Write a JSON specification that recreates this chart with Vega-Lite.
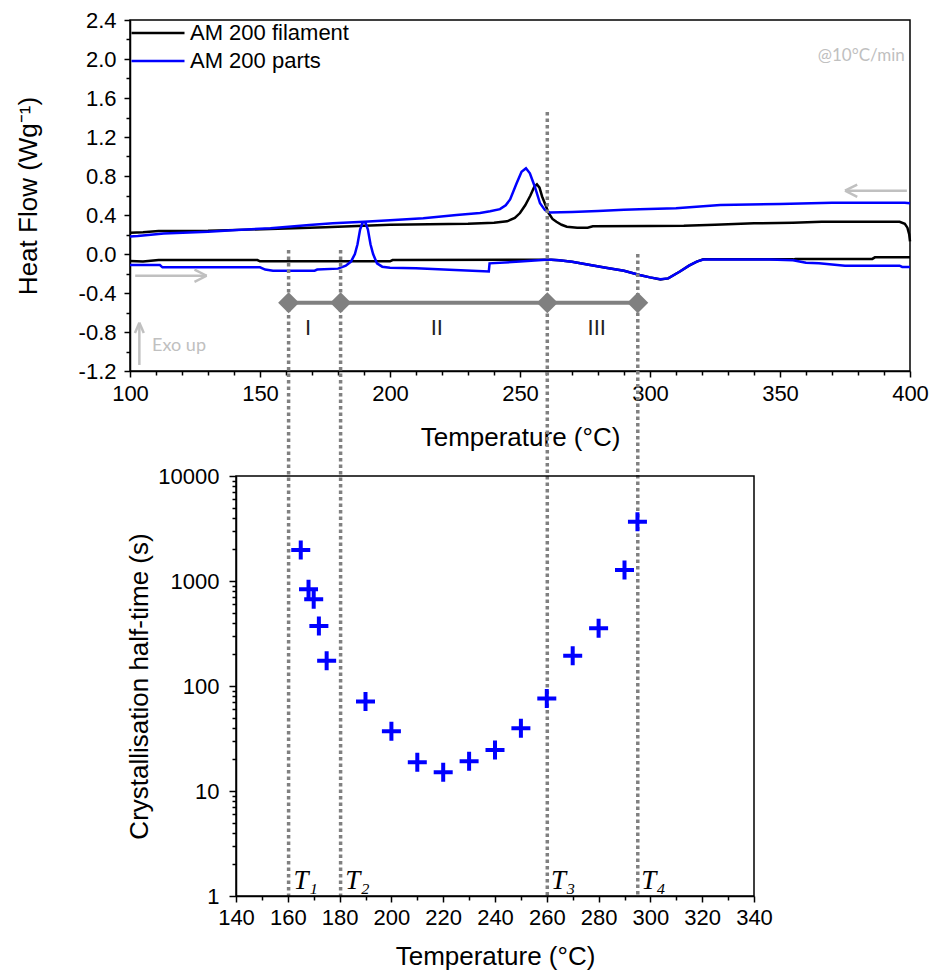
{
  "$schema": "https://vega.github.io/schema/vega-lite/v6.json",
  "background": "white",
  "padding": {"left": 14, "top": 8, "right": 5, "bottom": 0},
  "bounds": "flush",
  "spacing": 105,
  "config": {
    "font": "Liberation Sans",
    "view": {"stroke": "black", "strokeWidth": 1.5},
    "axis": {
      "grid": false,
      "labelFont": "Liberation Sans",
      "titleFont": "Liberation Sans",
      "labelColor": "black",
      "titleColor": "black",
      "domainColor": "black",
      "tickColor": "black",
      "domainWidth": 1.5,
      "tickWidth": 1.5,
      "titleFontWeight": "normal",
      "labelFontSize": 22,
      "titleFontSize": 26,
      "labelFlush": false,
      "labelOverlap": false
    }
  },
  "datasets": {
    "dsc": [
      {"T": 100, "v": 0.219, "m": "AM 200 filament", "run": "cooling"},
      {"T": 105, "v": 0.222, "m": "AM 200 filament", "run": "cooling"},
      {"T": 111, "v": 0.236, "m": "AM 200 filament", "run": "cooling"},
      {"T": 130, "v": 0.238, "m": "AM 200 filament", "run": "cooling"},
      {"T": 145, "v": 0.25, "m": "AM 200 filament", "run": "cooling"},
      {"T": 160, "v": 0.262, "m": "AM 200 filament", "run": "cooling"},
      {"T": 175, "v": 0.275, "m": "AM 200 filament", "run": "cooling"},
      {"T": 190, "v": 0.29, "m": "AM 200 filament", "run": "cooling"},
      {"T": 200, "v": 0.3, "m": "AM 200 filament", "run": "cooling"},
      {"T": 215, "v": 0.305, "m": "AM 200 filament", "run": "cooling"},
      {"T": 230, "v": 0.31, "m": "AM 200 filament", "run": "cooling"},
      {"T": 240, "v": 0.32, "m": "AM 200 filament", "run": "cooling"},
      {"T": 245, "v": 0.335, "m": "AM 200 filament", "run": "cooling"},
      {"T": 248, "v": 0.37, "m": "AM 200 filament", "run": "cooling"},
      {"T": 250, "v": 0.42, "m": "AM 200 filament", "run": "cooling"},
      {"T": 252, "v": 0.5, "m": "AM 200 filament", "run": "cooling"},
      {"T": 254, "v": 0.6, "m": "AM 200 filament", "run": "cooling"},
      {"T": 255.5, "v": 0.69, "m": "AM 200 filament", "run": "cooling"},
      {"T": 256.5, "v": 0.715, "m": "AM 200 filament", "run": "cooling"},
      {"T": 257.5, "v": 0.68, "m": "AM 200 filament", "run": "cooling"},
      {"T": 258.5, "v": 0.59, "m": "AM 200 filament", "run": "cooling"},
      {"T": 260, "v": 0.49, "m": "AM 200 filament", "run": "cooling"},
      {"T": 261, "v": 0.42, "m": "AM 200 filament", "run": "cooling"},
      {"T": 262.5, "v": 0.36, "m": "AM 200 filament", "run": "cooling"},
      {"T": 264, "v": 0.33, "m": "AM 200 filament", "run": "cooling"},
      {"T": 266, "v": 0.3, "m": "AM 200 filament", "run": "cooling"},
      {"T": 268, "v": 0.28, "m": "AM 200 filament", "run": "cooling"},
      {"T": 272, "v": 0.27, "m": "AM 200 filament", "run": "cooling"},
      {"T": 276, "v": 0.27, "m": "AM 200 filament", "run": "cooling"},
      {"T": 278, "v": 0.285, "m": "AM 200 filament", "run": "cooling"},
      {"T": 300, "v": 0.287, "m": "AM 200 filament", "run": "cooling"},
      {"T": 313, "v": 0.29, "m": "AM 200 filament", "run": "cooling"},
      {"T": 325, "v": 0.3, "m": "AM 200 filament", "run": "cooling"},
      {"T": 340, "v": 0.315, "m": "AM 200 filament", "run": "cooling"},
      {"T": 355, "v": 0.32, "m": "AM 200 filament", "run": "cooling"},
      {"T": 366, "v": 0.33, "m": "AM 200 filament", "run": "cooling"},
      {"T": 396, "v": 0.33, "m": "AM 200 filament", "run": "cooling"},
      {"T": 398, "v": 0.31, "m": "AM 200 filament", "run": "cooling"},
      {"T": 399, "v": 0.27, "m": "AM 200 filament", "run": "cooling"},
      {"T": 399.7, "v": 0.2, "m": "AM 200 filament", "run": "cooling"},
      {"T": 400, "v": 0.13, "m": "AM 200 filament", "run": "cooling"},
      {"T": 100, "v": -0.072, "m": "AM 200 filament", "run": "heating"},
      {"T": 105, "v": -0.078, "m": "AM 200 filament", "run": "heating"},
      {"T": 111, "v": -0.062, "m": "AM 200 filament", "run": "heating"},
      {"T": 149, "v": -0.062, "m": "AM 200 filament", "run": "heating"},
      {"T": 150, "v": -0.075, "m": "AM 200 filament", "run": "heating"},
      {"T": 200, "v": -0.075, "m": "AM 200 filament", "run": "heating"},
      {"T": 201, "v": -0.062, "m": "AM 200 filament", "run": "heating"},
      {"T": 262, "v": -0.058, "m": "AM 200 filament", "run": "heating"},
      {"T": 265, "v": -0.065, "m": "AM 200 filament", "run": "heating"},
      {"T": 270, "v": -0.08, "m": "AM 200 filament", "run": "heating"},
      {"T": 277, "v": -0.113, "m": "AM 200 filament", "run": "heating"},
      {"T": 283, "v": -0.14, "m": "AM 200 filament", "run": "heating"},
      {"T": 290, "v": -0.171, "m": "AM 200 filament", "run": "heating"},
      {"T": 296, "v": -0.215, "m": "AM 200 filament", "run": "heating"},
      {"T": 300, "v": -0.24, "m": "AM 200 filament", "run": "heating"},
      {"T": 304, "v": -0.262, "m": "AM 200 filament", "run": "heating"},
      {"T": 307, "v": -0.25, "m": "AM 200 filament", "run": "heating"},
      {"T": 311.5, "v": -0.18, "m": "AM 200 filament", "run": "heating"},
      {"T": 315, "v": -0.12, "m": "AM 200 filament", "run": "heating"},
      {"T": 318, "v": -0.078, "m": "AM 200 filament", "run": "heating"},
      {"T": 320.5, "v": -0.055, "m": "AM 200 filament", "run": "heating"},
      {"T": 355, "v": -0.055, "m": "AM 200 filament", "run": "heating"},
      {"T": 356, "v": -0.05, "m": "AM 200 filament", "run": "heating"},
      {"T": 385.5, "v": -0.05, "m": "AM 200 filament", "run": "heating"},
      {"T": 386.5, "v": -0.034, "m": "AM 200 filament", "run": "heating"},
      {"T": 400, "v": -0.034, "m": "AM 200 filament", "run": "heating"},
      {"T": 100, "v": 0.18, "m": "AM 200 parts", "run": "cooling"},
      {"T": 103, "v": 0.185, "m": "AM 200 parts", "run": "cooling"},
      {"T": 113, "v": 0.21, "m": "AM 200 parts", "run": "cooling"},
      {"T": 130, "v": 0.229, "m": "AM 200 parts", "run": "cooling"},
      {"T": 141, "v": 0.246, "m": "AM 200 parts", "run": "cooling"},
      {"T": 154, "v": 0.264, "m": "AM 200 parts", "run": "cooling"},
      {"T": 169, "v": 0.297, "m": "AM 200 parts", "run": "cooling"},
      {"T": 178, "v": 0.315, "m": "AM 200 parts", "run": "cooling"},
      {"T": 190, "v": 0.33, "m": "AM 200 parts", "run": "cooling"},
      {"T": 200, "v": 0.345, "m": "AM 200 parts", "run": "cooling"},
      {"T": 212.8, "v": 0.366, "m": "AM 200 parts", "run": "cooling"},
      {"T": 225.6, "v": 0.4, "m": "AM 200 parts", "run": "cooling"},
      {"T": 234.6, "v": 0.42, "m": "AM 200 parts", "run": "cooling"},
      {"T": 238.5, "v": 0.438, "m": "AM 200 parts", "run": "cooling"},
      {"T": 242.3, "v": 0.46, "m": "AM 200 parts", "run": "cooling"},
      {"T": 244.5, "v": 0.5, "m": "AM 200 parts", "run": "cooling"},
      {"T": 246.2, "v": 0.56, "m": "AM 200 parts", "run": "cooling"},
      {"T": 248.7, "v": 0.725, "m": "AM 200 parts", "run": "cooling"},
      {"T": 250.6, "v": 0.844, "m": "AM 200 parts", "run": "cooling"},
      {"T": 252.3, "v": 0.879, "m": "AM 200 parts", "run": "cooling"},
      {"T": 253.8, "v": 0.828, "m": "AM 200 parts", "run": "cooling"},
      {"T": 255.7, "v": 0.69, "m": "AM 200 parts", "run": "cooling"},
      {"T": 257.7, "v": 0.52, "m": "AM 200 parts", "run": "cooling"},
      {"T": 259.6, "v": 0.45, "m": "AM 200 parts", "run": "cooling"},
      {"T": 261.5, "v": 0.425, "m": "AM 200 parts", "run": "cooling"},
      {"T": 270, "v": 0.43, "m": "AM 200 parts", "run": "cooling"},
      {"T": 280, "v": 0.44, "m": "AM 200 parts", "run": "cooling"},
      {"T": 290, "v": 0.455, "m": "AM 200 parts", "run": "cooling"},
      {"T": 296, "v": 0.458, "m": "AM 200 parts", "run": "cooling"},
      {"T": 310, "v": 0.47, "m": "AM 200 parts", "run": "cooling"},
      {"T": 327, "v": 0.503, "m": "AM 200 parts", "run": "cooling"},
      {"T": 350, "v": 0.512, "m": "AM 200 parts", "run": "cooling"},
      {"T": 370, "v": 0.526, "m": "AM 200 parts", "run": "cooling"},
      {"T": 398, "v": 0.526, "m": "AM 200 parts", "run": "cooling"},
      {"T": 400, "v": 0.52, "m": "AM 200 parts", "run": "cooling"},
      {"T": 100, "v": -0.113, "m": "AM 200 parts", "run": "heating"},
      {"T": 111.5, "v": -0.113, "m": "AM 200 parts", "run": "heating"},
      {"T": 112.5, "v": -0.137, "m": "AM 200 parts", "run": "heating"},
      {"T": 150, "v": -0.137, "m": "AM 200 parts", "run": "heating"},
      {"T": 152, "v": -0.16, "m": "AM 200 parts", "run": "heating"},
      {"T": 155, "v": -0.171, "m": "AM 200 parts", "run": "heating"},
      {"T": 171, "v": -0.171, "m": "AM 200 parts", "run": "heating"},
      {"T": 172, "v": -0.16, "m": "AM 200 parts", "run": "heating"},
      {"T": 180, "v": -0.15, "m": "AM 200 parts", "run": "heating"},
      {"T": 183, "v": -0.12, "m": "AM 200 parts", "run": "heating"},
      {"T": 185, "v": -0.078, "m": "AM 200 parts", "run": "heating"},
      {"T": 186.5, "v": 0.0, "m": "AM 200 parts", "run": "heating"},
      {"T": 187.5, "v": 0.1, "m": "AM 200 parts", "run": "heating"},
      {"T": 188.5, "v": 0.25, "m": "AM 200 parts", "run": "heating"},
      {"T": 189.5, "v": 0.325, "m": "AM 200 parts", "run": "heating"},
      {"T": 190.5, "v": 0.325, "m": "AM 200 parts", "run": "heating"},
      {"T": 191.5, "v": 0.25, "m": "AM 200 parts", "run": "heating"},
      {"T": 192.5, "v": 0.1, "m": "AM 200 parts", "run": "heating"},
      {"T": 193.5, "v": 0.0, "m": "AM 200 parts", "run": "heating"},
      {"T": 195, "v": -0.096, "m": "AM 200 parts", "run": "heating"},
      {"T": 197, "v": -0.13, "m": "AM 200 parts", "run": "heating"},
      {"T": 200, "v": -0.14, "m": "AM 200 parts", "run": "heating"},
      {"T": 210, "v": -0.147, "m": "AM 200 parts", "run": "heating"},
      {"T": 225, "v": -0.164, "m": "AM 200 parts", "run": "heating"},
      {"T": 238, "v": -0.18, "m": "AM 200 parts", "run": "heating"},
      {"T": 238.3, "v": -0.096, "m": "AM 200 parts", "run": "heating"},
      {"T": 250, "v": -0.078, "m": "AM 200 parts", "run": "heating"},
      {"T": 260, "v": -0.06, "m": "AM 200 parts", "run": "heating"},
      {"T": 262, "v": -0.058, "m": "AM 200 parts", "run": "heating"},
      {"T": 265, "v": -0.065, "m": "AM 200 parts", "run": "heating"},
      {"T": 270, "v": -0.08, "m": "AM 200 parts", "run": "heating"},
      {"T": 277, "v": -0.113, "m": "AM 200 parts", "run": "heating"},
      {"T": 283, "v": -0.14, "m": "AM 200 parts", "run": "heating"},
      {"T": 290, "v": -0.171, "m": "AM 200 parts", "run": "heating"},
      {"T": 296, "v": -0.215, "m": "AM 200 parts", "run": "heating"},
      {"T": 300, "v": -0.24, "m": "AM 200 parts", "run": "heating"},
      {"T": 304, "v": -0.26, "m": "AM 200 parts", "run": "heating"},
      {"T": 307, "v": -0.25, "m": "AM 200 parts", "run": "heating"},
      {"T": 311.5, "v": -0.18, "m": "AM 200 parts", "run": "heating"},
      {"T": 315, "v": -0.12, "m": "AM 200 parts", "run": "heating"},
      {"T": 318, "v": -0.078, "m": "AM 200 parts", "run": "heating"},
      {"T": 320.5, "v": -0.057, "m": "AM 200 parts", "run": "heating"},
      {"T": 346, "v": -0.057, "m": "AM 200 parts", "run": "heating"},
      {"T": 355, "v": -0.065, "m": "AM 200 parts", "run": "heating"},
      {"T": 360, "v": -0.09, "m": "AM 200 parts", "run": "heating"},
      {"T": 365, "v": -0.096, "m": "AM 200 parts", "run": "heating"},
      {"T": 375, "v": -0.12, "m": "AM 200 parts", "run": "heating"},
      {"T": 396, "v": -0.12, "m": "AM 200 parts", "run": "heating"},
      {"T": 397, "v": -0.133, "m": "AM 200 parts", "run": "heating"},
      {"T": 400, "v": -0.133, "m": "AM 200 parts", "run": "heating"}
    ],
    "phases": [
      {"T": 161, "top": 0.04, "label": "T₁"},
      {"T": 181, "top": 0.04, "label": "T₂"},
      {"T": 260.5, "top": 1.456, "label": "T₃"},
      {"T": 295.3, "top": 0.0, "label": "T₄"}
    ],
    "regions": [
      {"T": 168.5, "region": "I"},
      {"T": 218, "region": "II"},
      {"T": 279.5, "region": "III"}
    ],
    "arrows": [
      {"x": 102, "y": -0.223, "x2": 129.5, "y2": -0.223},
      {"x": 129.5, "y": -0.223, "x2": 124.8, "y2": -0.16},
      {"x": 129.5, "y": -0.223, "x2": 124.8, "y2": -0.286},
      {"x": 375, "y": 0.649, "x2": 398.8, "y2": 0.649},
      {"x": 375, "y": 0.649, "x2": 379.7, "y2": 0.712},
      {"x": 375, "y": 0.649, "x2": 379.7, "y2": 0.586},
      {"x": 103.6, "y": -1.138, "x2": 103.6, "y2": -0.704},
      {"x": 103.6, "y": -0.704, "x2": 101.9, "y2": -0.81},
      {"x": 103.6, "y": -0.704, "x2": 105.3, "y2": -0.81}
    ],
    "halftime": [
      {"T": 165, "t": 1970},
      {"T": 168, "t": 834},
      {"T": 170, "t": 669},
      {"T": 172, "t": 373},
      {"T": 175, "t": 174},
      {"T": 190, "t": 71},
      {"T": 200, "t": 37},
      {"T": 210, "t": 18.8},
      {"T": 220, "t": 15.1},
      {"T": 230, "t": 19.2},
      {"T": 240, "t": 24.6},
      {"T": 250, "t": 39.5},
      {"T": 260, "t": 76},
      {"T": 270, "t": 194},
      {"T": 280, "t": 354},
      {"T": 290, "t": 1273},
      {"T": 295, "t": 3670}
    ]
  },
  "vconcat": [
    {
      "width": 780,
      "height": 351,
      "resolve": {"axis": {"x": "independent", "y": "independent"}},
      "layer": [
        {
          "data": {"name": "dsc"},
          "mark": {"type": "line", "strokeWidth": 2.5},
          "encoding": {
            "x": {
              "field": "T", "type": "quantitative",
              "scale": {"domain": [100, 400], "nice": false, "zero": false},
              "axis": {
                "orient": "bottom",
                "values": [100, 150, 200, 250, 300, 350, 400],
                "format": "d",
                "tickSize": 6,
                "labelPadding": 6,
                "title": "Temperature (°C)",
                "titlePadding": 20
              }
            },
            "y": {
              "field": "v", "type": "quantitative",
              "scale": {"domain": [-1.2, 2.4], "nice": false, "zero": false},
              "axis": {
                "orient": "left",
                "values": [-1.2, -0.8, -0.4, 0, 0.4, 0.8, 1.2, 1.6, 2.0, 2.4],
                "labelExpr": "replace(format(datum.value, '.1f'), '−', '-')",
                "tickSize": 6,
                "labelPadding": 8,
                "title": "Heat Flow (Wg⁻¹)",
                "titlePadding": 37
              }
            },
            "color": {
              "field": "m", "type": "nominal",
              "scale": {"domain": ["AM 200 filament", "AM 200 parts"], "range": ["#000000", "#0000ff"]},
              "legend": {
                "orient": "none",
                "legendX": 0,
                "legendY": 2,
                "title": null,
                "symbolType": "stroke",
                "symbolSize": 2809,
                "symbolStrokeWidth": 2.5,
                "labelFontSize": 22,
                "labelFont": "Liberation Sans",
                "labelColor": "black",
                "labelOffset": 4,
                "clipHeight": 22,
                "rowPadding": 6,
                "padding": 0
              }
            },
            "detail": {"field": "run", "type": "nominal"}
          }
        },
        {
          "data": {"name": "phases"},
          "mark": {"type": "rule", "color": "#808080", "strokeWidth": 3.5, "strokeDash": [3.5, 3]},
          "encoding": {
            "x": {"field": "T", "type": "quantitative", "axis": null},
            "y": {"field": "top", "type": "quantitative", "axis": null},
            "y2": {"datum": -6.585}
          }
        },
        {
          "data": {"name": "phases"},
          "mark": {"type": "rule", "color": "#808080", "strokeWidth": 4},
          "encoding": {
            "x": {"aggregate": "min", "field": "T", "type": "quantitative", "axis": null},
            "x2": {"aggregate": "max", "field": "T"},
            "y": {"datum": -0.5, "type": "quantitative", "axis": null}
          }
        },
        {
          "data": {"name": "phases"},
          "mark": {"type": "point", "shape": "diamond", "filled": true, "size": 441, "color": "#808080", "opacity": 1},
          "encoding": {
            "x": {"field": "T", "type": "quantitative", "axis": null},
            "y": {"datum": -0.5, "type": "quantitative", "axis": null}
          }
        },
        {
          "data": {"name": "regions"},
          "mark": {"type": "text", "fontSize": 22, "color": "#222222", "font": "Liberation Sans"},
          "encoding": {
            "x": {"field": "T", "type": "quantitative", "axis": null},
            "y": {"datum": -0.76, "type": "quantitative", "axis": null},
            "text": {"field": "region"}
          }
        },
        {
          "data": {"name": "arrows"},
          "mark": {"type": "rule", "color": "#c0c0c0", "strokeWidth": 2.5},
          "encoding": {
            "x": {
              "field": "x", "type": "quantitative",
              "axis": {
                "orient": "bottom",
                "values": [110, 120, 130, 140, 160, 170, 180, 190, 210, 220, 230, 240, 260, 270, 280, 290, 310, 320, 330, 340, 360, 370, 380, 390],
                "labels": false, "domain": false, "tickSize": 4, "title": null
              }
            },
            "y": {
              "field": "y", "type": "quantitative",
              "axis": {
                "orient": "left",
                "values": [-1.0, -0.6, -0.2, 0.2, 0.6, 1.0, 1.4, 1.8, 2.2],
                "labels": false, "domain": false, "tickSize": 4, "title": null
              }
            },
            "x2": {"field": "x2"},
            "y2": {"field": "y2"}
          }
        },
        {
          "data": {"values": [{"T": 108.5, "v": -0.94, "note": "Exo up"}]},
          "mark": {"type": "text", "align": "left", "baseline": "middle", "fontSize": 18, "font": "Lato", "color": "#c0c0c0"},
          "encoding": {
            "x": {"field": "T", "type": "quantitative", "axis": null},
            "y": {"field": "v", "type": "quantitative", "axis": null},
            "text": {"field": "note"}
          }
        },
        {
          "data": {"values": [{"T": 398, "v": 2.03, "note": "@10°C/min"}]},
          "mark": {"type": "text", "align": "right", "baseline": "middle", "fontSize": 17, "font": "Lato", "color": "#c0c0c0"},
          "encoding": {
            "x": {"field": "T", "type": "quantitative", "axis": null},
            "y": {"field": "v", "type": "quantitative", "axis": null},
            "text": {"field": "note"}
          }
        }
      ]
    },
    {
      "bounds": "flush",
      "spacing": 0,
      "hconcat": [
        {
          "width": 106,
          "height": 420,
          "view": {"stroke": null},
          "data": {"values": [{"a": 0}]},
          "mark": {"type": "point", "opacity": 0},
          "encoding": {}
        },
        {
          "width": 518,
          "height": 420,
          "resolve": {"axis": {"x": "independent", "y": "independent"}},
          "layer": [
            {
              "data": {"name": "halftime"},
              "mark": {"type": "point", "shape": "M-1,0L1,0M0,-1L0,1", "filled": false, "size": 361, "stroke": "#0000ff", "strokeWidth": 4, "opacity": 1},
              "encoding": {
                "x": {
                  "field": "T", "type": "quantitative",
                  "scale": {"domain": [140, 340], "nice": false, "zero": false},
                  "axis": {
                    "orient": "bottom",
                    "values": [140, 160, 180, 200, 220, 240, 260, 280, 300, 320, 340],
                    "format": "d",
                    "tickSize": 6,
                    "labelPadding": 5,
                    "title": "Temperature (°C)",
                    "titlePadding": 15
                  }
                },
                "y": {
                  "field": "t", "type": "quantitative",
                  "scale": {"type": "log", "domain": [1, 10000], "nice": false},
                  "axis": {
                    "orient": "left",
                    "values": [1, 10, 100, 1000, 10000],
                    "format": "d",
                    "tickSize": 7,
                    "labelPadding": 10,
                    "title": "Crystallisation half-time (s)",
                    "titlePadding": 5
                  }
                }
              }
            },
            {
              "data": {"name": "halftime"},
              "mark": {"type": "point", "opacity": 0},
              "encoding": {
                "x": {
                  "field": "T", "type": "quantitative",
                  "axis": {
                    "orient": "bottom",
                    "values": [150, 170, 190, 210, 230, 250, 270, 290, 310, 330],
                    "labels": false, "domain": false, "tickSize": 4, "title": null
                  }
                },
                "y": {
                  "field": "t", "type": "quantitative",
                  "axis": {
                    "orient": "left",
                    "values": [2, 3, 4, 5, 6, 7, 8, 9, 20, 30, 40, 50, 60, 70, 80, 90, 200, 300, 400, 500, 600, 700, 800, 900, 2000, 3000, 4000, 5000, 6000, 7000, 8000, 9000],
                    "labels": false, "domain": false, "tickSize": 4, "title": null
                  }
                }
              }
            },
            {
              "data": {"name": "phases"},
              "mark": {"type": "text", "align": "left", "baseline": "bottom", "dx": 3, "dy": -1, "fontSize": 27, "font": "Liberation Serif", "fontStyle": "italic", "color": "black"},
              "encoding": {
                "x": {"field": "T", "type": "quantitative", "axis": null},
                "y": {"datum": 1, "type": "quantitative", "axis": null},
                "text": {"field": "label"}
              }
            }
          ]
        }
      ]
    }
  ]
}
